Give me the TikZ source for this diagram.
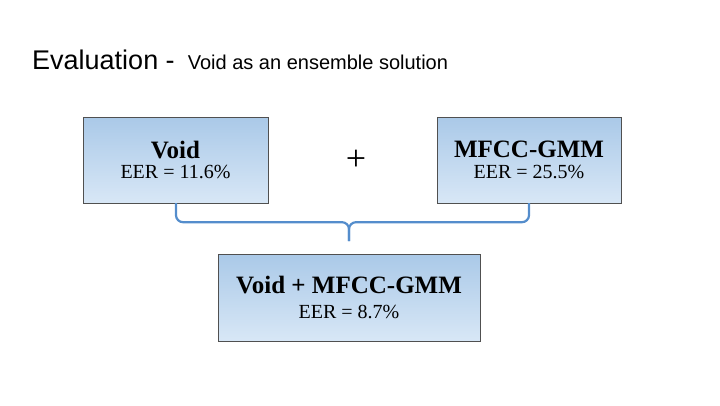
\documentclass[tikz,border=0pt]{standalone}
\usepackage{fontspec}
\setmainfont{Liberation Serif}
\newfontfamily\titlefont{Liberation Sans}
\usetikzlibrary{positioning}
\definecolor{boxtop}{RGB}{170,201,232}
\definecolor{boxbot}{RGB}{216,231,246}
\definecolor{boxline}{RGB}{80,80,80}
\definecolor{bracecol}{RGB}{84,141,204}
\tikzset{
  result/.style={draw=boxline, top color=boxtop, bottom color=boxbot,
    minimum height=86pt, align=center, inner sep=0pt},
  brace/.style={draw=bracecol, line width=2.2pt, rounded corners=7pt}
}
\begin{document}
\begin{tikzpicture}[x=1pt,y=-1pt]
\useasboundingbox (0,0) rectangle (720,405);

\node[anchor=base west, inner sep=0pt] (title) at (32,69)
  {\titlefont\fontsize{27}{29}\selectfont Evaluation - \fontsize{20}{22}\selectfont\ Void as an ensemble solution};

\node[result, minimum width=185pt] (void) at (175.5,160)
  {\fontsize{25}{27}\selectfont\bfseries Void\\[6pt]\fontsize{20}{22}\selectfont EER = 11.6\%};
\node[result, minimum width=184pt] (mfcc) at (529,160)
  {\fontsize{25}{27}\selectfont\bfseries MFCC-GMM\\[6pt]\fontsize{20}{22}\selectfont EER = 25.5\%};
\node[result, minimum width=262pt, minimum height=87pt] (both) at (349,297.5)
  {\fontsize{25}{27}\selectfont\bfseries Void + MFCC-GMM\\[10pt]\fontsize{20}{22}\selectfont EER = 8.7\%};

\node (plus) at (356,160) {\fontsize{36}{38}\selectfont +};

% brace joining the two results
\coordinate (tip) at (349,241);
\draw[brace] ([xshift=0.5pt]void.south) -- ++(0,19) -| (tip);
\draw[brace] (mfcc.south) -- ++(0,19) -| (tip);
\end{tikzpicture}
\end{document}
